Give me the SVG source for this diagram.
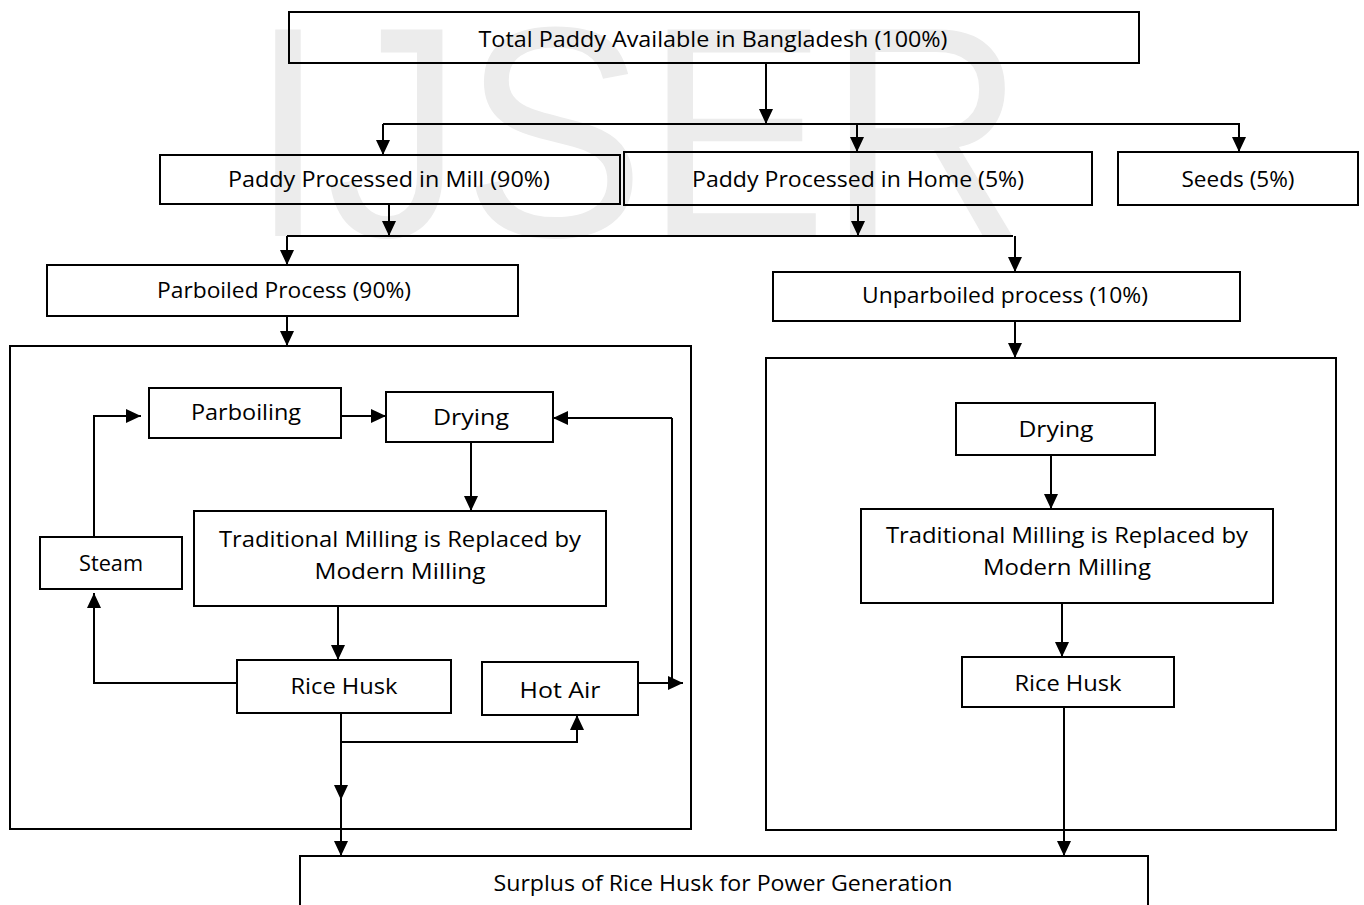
<svg xmlns="http://www.w3.org/2000/svg" width="1364" height="905" viewBox="0 0 1364 905">
<defs>
<marker id="ah" markerUnits="userSpaceOnUse" markerWidth="16" markerHeight="16" refX="15" refY="7" orient="auto">
<path d="M0,0 L15,7 L0,14 z" fill="#000"/>
</marker>
<style>
.box{fill:none;stroke:#000;stroke-width:2}
.frame{fill:none;stroke:#000;stroke-width:2}
.lbl{font-family:"Open Sans","Liberation Sans",sans-serif;font-size:21px;fill:#000;text-anchor:middle}
.c{fill:none;stroke:#000;stroke-width:2}
.a{fill:none;stroke:#000;stroke-width:2;marker-end:url(#ah)}
.wm{font-family:"Liberation Sans",Arial,sans-serif;font-size:300px;fill:#ececec}
</style>
</defs>
<rect width="1364" height="905" fill="#fff"/>
<text class="wm" x="250" y="236" textLength="775" lengthAdjust="spacingAndGlyphs">IJSER</text>

<g id="frames">
<rect id="parboiled-frame" class="frame" x="10" y="346" width="681" height="483"/>
<rect id="unparboiled-frame" class="frame" x="766" y="358" width="570" height="472"/>
</g>

<g id="connectors">
<line class="a" x1="766" y1="63" x2="766" y2="124"/>
<line class="c" x1="383" y1="124" x2="1240" y2="124"/>
<line class="a" x1="383" y1="124" x2="383" y2="155"/>
<line class="a" x1="857" y1="124" x2="857" y2="152"/>
<line class="a" x1="1239" y1="124" x2="1239" y2="152"/>
<line class="a" x1="389" y1="204" x2="389" y2="236"/>
<line class="a" x1="858" y1="205" x2="858" y2="236"/>
<line class="c" x1="287" y1="236" x2="1013" y2="236"/>
<line class="a" x1="287" y1="236" x2="287" y2="265"/>
<line class="a" x1="1015" y1="236" x2="1015" y2="272"/>
<line class="a" x1="287" y1="316" x2="287" y2="346"/>
<line class="a" x1="1015" y1="321" x2="1015" y2="358"/>
<line class="a" x1="341" y1="416" x2="386" y2="416"/>
<polyline class="a" points="672,418 553,418"/>
<line class="c" x1="672" y1="418" x2="672" y2="683"/>
<line class="a" x1="638" y1="683" x2="683" y2="683"/>
<line class="a" x1="471" y1="442" x2="471" y2="511"/>
<polyline class="a" points="94,537 94,416 141,416"/>
<line class="a" x1="338" y1="606" x2="338" y2="660"/>
<polyline class="a" points="237,683 94,683 94,593"/>
<line class="a" x1="341" y1="713" x2="341" y2="800"/>
<line class="a" x1="341" y1="800" x2="341" y2="856"/>
<polyline class="a" points="341,742 577,742 577,715"/>
<line class="a" x1="1051" y1="455" x2="1051" y2="509"/>
<line class="a" x1="1062" y1="603" x2="1062" y2="657"/>
<line class="a" x1="1064" y1="707" x2="1064" y2="856"/>
</g>

<g id="total"><rect class="box" x="289" y="12" width="850" height="51"/><text class="lbl" x="713" y="47" textLength="469" lengthAdjust="spacingAndGlyphs">Total Paddy Available in Bangladesh (100%)</text></g>
<g id="mill"><rect class="box" x="160" y="155" width="460" height="49"/><text class="lbl" x="389" y="187" textLength="322" lengthAdjust="spacingAndGlyphs">Paddy Processed in Mill (90%)</text></g>
<g id="home"><rect class="box" x="624" y="152" width="468" height="53"/><text class="lbl" x="858" y="187" textLength="332" lengthAdjust="spacingAndGlyphs">Paddy Processed in Home (5%)</text></g>
<g id="seeds"><rect class="box" x="1118" y="152" width="240" height="53"/><text class="lbl" x="1238" y="187" textLength="113" lengthAdjust="spacingAndGlyphs">Seeds (5%)</text></g>
<g id="parboiled"><rect class="box" x="47" y="265" width="471" height="51"/><text class="lbl" x="284" y="298" textLength="254" lengthAdjust="spacingAndGlyphs">Parboiled Process (90%)</text></g>
<g id="unparboiled"><rect class="box" x="773" y="272" width="467" height="49"/><text class="lbl" x="1005" y="303" textLength="286" lengthAdjust="spacingAndGlyphs">Unparboiled process (10%)</text></g>
<g id="parboiling"><rect class="box" x="149" y="388" width="192" height="50"/><text class="lbl" x="246" y="420" textLength="110" lengthAdjust="spacingAndGlyphs">Parboiling</text></g>
<g id="drying-l"><rect class="box" x="386" y="392" width="167" height="50"/><text class="lbl" x="471" y="425" textLength="76" lengthAdjust="spacingAndGlyphs">Drying</text></g>
<g id="milling-l"><rect class="box" x="194" y="511" width="412" height="95"/><text class="lbl" x="400" y="547" textLength="362" lengthAdjust="spacingAndGlyphs">Traditional Milling is Replaced by</text><text class="lbl" x="400" y="579" textLength="171" lengthAdjust="spacingAndGlyphs">Modern Milling</text></g>
<g id="steam"><rect class="box" x="40" y="537" width="142" height="52"/><text class="lbl" x="111" y="571" textLength="64" lengthAdjust="spacingAndGlyphs">Steam</text></g>
<g id="husk-l"><rect class="box" x="237" y="660" width="214" height="53"/><text class="lbl" x="344" y="694" textLength="107" lengthAdjust="spacingAndGlyphs">Rice Husk</text></g>
<g id="hotair"><rect class="box" x="482" y="662" width="156" height="53"/><text class="lbl" x="560" y="698" textLength="81" lengthAdjust="spacingAndGlyphs">Hot Air</text></g>
<g id="drying-r"><rect class="box" x="956" y="403" width="199" height="52"/><text class="lbl" x="1056" y="437" textLength="75" lengthAdjust="spacingAndGlyphs">Drying</text></g>
<g id="milling-r"><rect class="box" x="861" y="509" width="412" height="94"/><text class="lbl" x="1067" y="543" textLength="362" lengthAdjust="spacingAndGlyphs">Traditional Milling is Replaced by</text><text class="lbl" x="1067" y="575" textLength="168" lengthAdjust="spacingAndGlyphs">Modern Milling</text></g>
<g id="husk-r"><rect class="box" x="962" y="657" width="212" height="50"/><text class="lbl" x="1068" y="691" textLength="107" lengthAdjust="spacingAndGlyphs">Rice Husk</text></g>
<g id="surplus"><rect class="box" x="300" y="856" width="848" height="60"/><text class="lbl" x="723" y="891" textLength="459" lengthAdjust="spacingAndGlyphs">Surplus of Rice Husk for Power Generation</text></g>
</svg>
